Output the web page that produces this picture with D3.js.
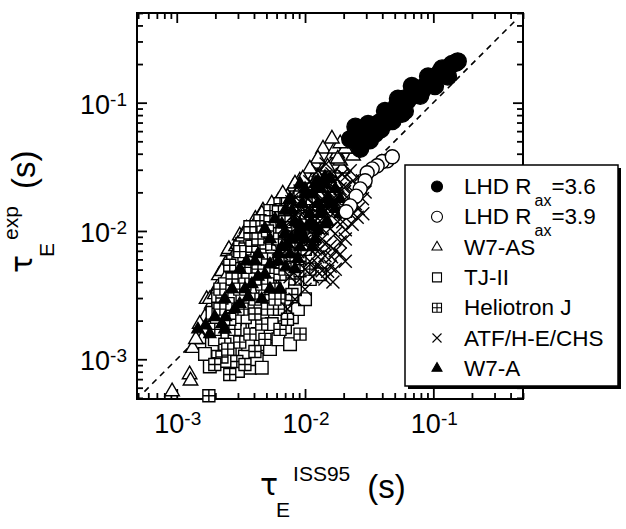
<!DOCTYPE html>
<html>
<head>
<meta charset="utf-8">
<script src="https://cdn.jsdelivr.net/npm/d3@7"></script>
<style>
  body { margin: 0; background: #fff; }
  text { font-family: "Liberation Sans", Arial, sans-serif; fill: #000; }
</style>
</head>
<body>
<div id="chart"></div>
<script>
// tau_E^exp vs tau_E^ISS95 (s)
const lhd36 = [[0.0225,0.052],[0.025,0.050],[0.027,0.056],[0.029,0.054],[0.031,0.060],[0.033,0.058],
  [0.034,0.066],[0.036,0.064],[0.038,0.070],[0.041,0.068],[0.043,0.078],[0.046,0.075],[0.048,0.085],
  [0.050,0.082],[0.052,0.095],[0.055,0.090],[0.058,0.100],[0.060,0.108],[0.063,0.104],[0.066,0.112],
  [0.070,0.118],[0.074,0.115],[0.078,0.128],[0.082,0.125],[0.086,0.135],[0.090,0.140],[0.094,0.148],
  [0.100,0.150],[0.105,0.160],[0.112,0.172],[0.118,0.168],[0.125,0.180],[0.132,0.190],[0.14,0.20],
  [0.15,0.205],[0.155,0.21],[0.0247,0.065],[0.028,0.0523],[0.031,0.0683],[0.035,0.057],[0.042,0.0863],
  [0.048,0.072],[0.053,0.1074],[0.06,0.0863],[0.068,0.135],[0.079,0.113],[0.091,0.16],[0.103,0.135],
  [0.117,0.185],[0.13,0.16],[0.0269,0.0437],[0.057,0.082],[0.039,0.062],[0.032,0.051]];

const lhd39 = [[0.0437,0.0352],[0.040,0.0348],[0.0365,0.0322],[0.0334,0.0305],[0.0305,0.0284],
  [0.0294,0.0246],[0.0269,0.0213],[0.025,0.0187],[0.0225,0.0157],[0.0209,0.0141],[0.0479,0.0379]];

const w7as = [[9.2e-4,5.6e-4],[1.26e-3,7.6e-4],[1.28e-3,6.8e-4],[1.33e-3,1.22e-3],[1.51e-3,1.57e-3],
  [1.74e-3,1.88e-3],[1.88e-3,2.7e-3],[2.0e-3,2.94e-3],[2.1e-3,3.7e-3],[2.13e-3,4.5e-3],[2.5e-3,6.9e-3],
  [2.55e-3,7.2e-3],[3.1e-3,9.2e-3],[3.5e-3,0.0104],[4.1e-3,0.0124],[4.7e-3,0.0144],[6.2e-3,0.0171],
  [6.6e-3,0.0178],[8.1e-3,0.0221],[9.1e-3,0.0246],[0.0104,0.0268],[0.0120,0.0333],[0.0138,0.0437],
  [0.0157,0.0365],[0.0178,0.040],[0.0195,0.0305],[0.0237,0.0385],[0.026,0.0523],[0.0294,0.0654],
  [0.0233,0.059],[0.0217,0.0437],[0.0172,0.0437],[3.1e-3,6.04e-3],[3.72e-3,7.23e-3],[4.45e-3,8.66e-3],
  [5.33e-3,0.0104],[6.38e-3,0.0124],[7.64e-3,0.0149],[9.14e-3,0.0178],[0.0109,0.0195],[0.0131,0.0233],
  [0.0157,0.0279],[3.4e-3,4.22e-3],[4.07e-3,5.04e-3],[4.87e-3,6.6e-3],[5.83e-3,7.9e-3],[6.98e-3,9.5e-3],
  [8.35e-3,0.0113],[0.01,0.0136],[0.012,0.0163],[0.0143,0.0195],[0.0172,0.0233],[2.59e-3,3.52e-3],
  [2.84e-3,2.94e-3],[2.37e-3,2.46e-3],[2.17e-3,2.05e-3],[1.98e-3,1.57e-3],[3.72e-3,2.94e-3],
  [4.45e-3,3.52e-3],[5.33e-3,4.22e-3],[2.4e-3,5.5e-3],[2.84e-3,5.2e-3],[3.4e-3,6.6e-3],[4.07e-3,9.5e-3],
  [5.1e-3,0.0113],[5.83e-3,0.0141],[7.3e-3,0.0184],[9.14e-3,0.0213],[0.0114,0.0246],[0.0136,0.0295],
  [0.0188,0.0352],[3.4e-3,7.9e-3],[2.9e-3,7.6e-3],[2.3e-3,3.8e-3],[1.71e-3,2.94e-3],[1.57e-3,1.43e-3],
  [1.66e-3,2.13e-3],[1.81e-3,2.94e-3],[2.25e-3,4.85e-3],[2.7e-3,5.8e-3],[3.0e-3,7.9e-3],[3.72e-3,9.5e-3],
  [4.3e-3,0.0108],[5.1e-3,0.0128],[6.98e-3,0.0163],[8.8e-3,0.0195],[0.0106,0.0221],[0.0126,0.0264],
  [0.015,0.0316],[0.018,0.0365],[0.0206,0.0437],[0.0269,0.057],[0.0247,0.048],[0.0188,0.048],
  [0.0162,0.0523],[0.0126,0.0365],[0.0109,0.0305],[9.6e-3,0.0255],[8.35e-3,0.0233],[6.7e-3,0.0195],
  [5.5e-3,0.0163],[4.6e-3,0.0136],[4.07e-3,0.0113],[3.4e-3,9.5e-3],[2.84e-3,6.6e-3],[2.37e-3,4.22e-3],
  [1.98e-3,3.2e-3],[1.51e-3,1.88e-3],[1.41e-3,1.43e-3],[3.72e-3,5.04e-3],[4.6e-3,5.8e-3],[6.38e-3,8.9e-3],
  [7.9e-3,0.0108],[0.01,0.0163],[0.0131,0.0184],[0.0157,0.0233]];

const tj2 = [[1.81e-3,8.8e-4],[2.1e-3,1.15e-3],[2.59e-3,1.2e-3],[3.4e-3,1.05e-3],[3.72e-3,8.6e-4],
  [4.2e-3,1.0e-3],[2.7e-3,1.49e-3],[3.1e-3,1.71e-3],[2.25e-3,1.43e-3],[1.88e-3,1.31e-3],[4.45e-3,1.31e-3],
  [5.1e-3,1.57e-3],[4.07e-3,1.88e-3],[3.4e-3,2.13e-3],[2.84e-3,2.05e-3],[4.87e-3,2.25e-3],[5.83e-3,2.05e-3],
  [6.38e-3,2.94e-3],[5.33e-3,2.94e-3],[4.3e-3,2.7e-3],[3.72e-3,3.52e-3],[3.1e-3,3.2e-3],[2.59e-3,2.94e-3],
  [6.98e-3,3.85e-3],[7.64e-3,5.04e-3],[5.83e-3,4.6e-3],[4.6e-3,4.6e-3],[3.85e-3,5.5e-3],[3.2e-3,5.04e-3],
  [6.7e-3,6.04e-3],[8.35e-3,6.6e-3],[0.01,7.23e-3],[0.0106,7.9e-3],[9.14e-3,8.66e-3],[5.33e-3,6.6e-3],
  [4.45e-3,6.04e-3],[7.64e-3,8.66e-3],[6.38e-3,7.9e-3],[4.87e-3,8.66e-3],[4.07e-3,7.5e-3],[9.14e-3,0.0113],
  [7.64e-3,0.0113],[0.0109,0.0124],[6.98e-3,0.0136],[5.83e-3,0.0104],[0.0131,0.0149],[0.0109,0.0163],
  [8.35e-3,0.0163],[2.37e-3,1.88e-3],[2.05e-3,2.13e-3],[2.5e-3,2.7e-3],
  [1.66e-3,1.1e-3],[2.37e-3,9.7e-4],[3.0e-3,8.1e-4],[4.6e-3,8.6e-4],[5.33e-3,1.2e-3],[6.2e-3,1.43e-3],
  [6.98e-3,1.78e-3],[7.9e-3,2.13e-3],[8.8e-3,2.46e-3],[0.01,2.94e-3],[7.64e-3,1.31e-3],[5.5e-3,1.88e-3],
  [4.3e-3,1.57e-3],[3.6e-3,1.31e-3],[1.98e-3,1.43e-3],[1.9e-3,2.3e-3],[2.1e-3,2.94e-3],[2.37e-3,3.85e-3],
  [2.84e-3,4.22e-3],[3.6e-3,4.6e-3],[5.1e-3,3.85e-3],[6.38e-3,2.46e-3],[8.35e-3,3.52e-3],[0.0109,4.22e-3],
  [0.0131,4.6e-3],[2.75e-3,5.8e-3],[3.25e-3,7.9e-3],[4.6e-3,7.9e-3],[6.2e-3,0.01]];

const hj = [[1.78e-3,5.2e-4],[2.59e-3,7.6e-4],[9.14e-3,1.57e-3],[2.25e-3,1.04e-3],[2.94e-3,9.6e-4],
  [1.98e-3,1.71e-3],[2.37e-3,1.31e-3],[3.1e-3,1.36e-3],[3.72e-3,1.57e-3],[2.84e-3,1.71e-3],[4.6e-3,1.88e-3],
  [3.6e-3,2.46e-3],[3.0e-3,2.46e-3],[4.07e-3,2.94e-3],[4.87e-3,3.2e-3],[5.83e-3,3.52e-3],[4.6e-3,3.85e-3],
  [3.4e-3,3.85e-3],[2.7e-3,4.22e-3],[2.25e-3,3.0e-3],[5.33e-3,5.2e-3],[4.3e-3,5.04e-3],[3.6e-3,6.3e-3],
  [3.0e-3,6.3e-3],[6.38e-3,4.6e-3],[7.64e-3,5.8e-3],[9.14e-3,5.8e-3],[8.35e-3,4.22e-3],[6.98e-3,2.94e-3],
  [6.2e-3,2.46e-3],[7.9e-3,3.2e-3],[5.1e-3,2.46e-3],[2.59e-3,5.4e-3],[4.45e-3,7.23e-3],[5.5e-3,7.9e-3],
  [6.98e-3,7.23e-3],[3.1e-3,7.5e-3],[3.72e-3,8.66e-3],[4.6e-3,0.01],[5.5e-3,0.0124],[6.6e-3,9.5e-3],
  [8.5e-3,7.9e-3],[0.01,0.01],[7.9e-3,0.01],[6.38e-3,0.0163],[5.33e-3,0.0144],[4.45e-3,0.012],
  [3.72e-3,0.0108],[0.012,0.0104],[0.0114,8.66e-3],[3.4e-3,7.23e-3],[3.85e-3,7.6e-3],[8.8e-3,0.0144],
  [0.0102,0.0178],[9.14e-3,0.0184],[4.7e-3,9.8e-3],[5.33e-3,0.0118],[7.3e-3,0.0163],[6.2e-3,0.0141],
  [2.17e-3,3.52e-3],[2.1e-3,2.5e-3],
  [1.98e-3,9.1e-4],[3.4e-3,9.1e-4],[2.5e-3,1.2e-3],[4.07e-3,1.15e-3],[4.87e-3,1.43e-3],[6.38e-3,1.71e-3],
  [7.3e-3,2.05e-3],[5.83e-3,2.94e-3],[4.07e-3,2.25e-3],[2.59e-3,2.05e-3],[2.17e-3,2.46e-3],[3.1e-3,3.52e-3],
  [4.07e-3,4.22e-3],[5.1e-3,6.04e-3],[6.98e-3,5.04e-3],[9.14e-3,4.9e-3],[0.0109,5.04e-3],[3.4e-3,5.2e-3],
  [3.1e-3,6.9e-3],[4.3e-3,8.66e-3],[6.2e-3,8.66e-3],[8.35e-3,7.23e-3],[5.1e-3,0.01],[6.98e-3,0.0118],
  [9.14e-3,0.0124],[0.0114,0.0144]];

const atf = [[0.0282,0.0136],[0.0255,0.0128],[0.0233,0.0113],[0.0206,0.0102],[0.0188,8.2e-3],
  [0.0172,7.0e-3],[0.0157,5.3e-3],[0.0165,4.0e-3],[0.0143,4.22e-3],[0.0136,4.9e-3],[0.0161,6.3e-3],
  [0.0225,0.0295],[0.0237,0.0246],[0.026,0.0221],[0.028,0.0178],[0.0294,0.0201],[0.0206,8.66e-3],
  [0.0143,6.4e-3],[0.0157,7.6e-3],[0.0217,0.0178],[0.0195,0.0149],[0.018,0.0118],[0.0157,0.0104],
  [0.0136,8.66e-3],[0.012,7.23e-3],[0.0109,5.8e-3],[0.0126,5.5e-3],[0.01,5.04e-3],[0.0114,4.4e-3],
  [9.14e-3,4.22e-3],[0.0188,0.0213],[0.0172,0.0178],[0.015,0.0149],[0.0131,0.012],[0.0115,0.0102],
  [0.01,8.3e-3],[8.8e-3,6.9e-3],[0.0206,0.0221],[0.0247,0.0163],[0.0225,0.0136],[0.0176,0.0255],
  [0.0157,0.0213],[0.0136,0.0178],[0.012,0.0144],[0.0104,0.012],[8.8e-3,0.01],[7.64e-3,7.9e-3],
  [6.6e-3,6.6e-3],[0.0148,0.0246],[0.0126,0.0213],[0.0106,0.0178],[9.14e-3,0.0144],[7.9e-3,0.013],
  [6.98e-3,0.0108],[0.0109,0.0242],[9.14e-3,0.0205],[7.9e-3,0.0169],[0.0126,0.0295],[0.0146,0.0333],
  [0.0195,0.0275],[0.01,3.52e-3],[8.35e-3,2.94e-3],[7.3e-3,2.46e-3],[0.0143,0.0163],[0.0165,0.0136],
  [0.0126,0.0136],[0.01,0.0108],[0.0114,0.0163],[0.018,0.0184],[0.0206,0.0163],[0.0136,0.0104],
  [9.14e-3,7.9e-3],[7.64e-3,9.5e-3],[8.35e-3,0.0136],[6.98e-3,8.3e-3],[6.2e-3,7.23e-3],[0.0109,7.23e-3],
  [0.0131,7.23e-3],[9.14e-3,6.04e-3],[7.64e-3,4.4e-3],[0.012,5.04e-3],
  [0.0225,0.0195],[0.026,0.0149],[0.0197,0.0118],[0.0172,9.5e-3],[0.0143,7.9e-3],[0.0126,6.3e-3],
  [0.0188,6.6e-3],[0.0206,5.8e-3],[0.015,4.85e-3],[0.0172,5.04e-3],[0.0247,0.0195],[0.028,0.0246],
  [0.0206,0.0264],[0.0162,0.0279],[0.0136,0.0221],[0.0109,0.0195],[9.14e-3,0.0169],[7.64e-3,0.0149],
  [0.01,0.0144],[0.012,0.012],[0.0143,0.0144],[0.0165,0.0178]];

const w7a = [[1.46e-3,1.71e-3],[1.68e-3,1.84e-3],[2.4e-3,2.13e-3],[3.1e-3,2.7e-3],[3.85e-3,3.85e-3],
  [4.87e-3,4.6e-3],[6.2e-3,5.8e-3],[7.1e-3,5.2e-3],[5.33e-3,8.66e-3],[6.6e-3,0.0113],[7.9e-3,0.0144],
  [9.5e-3,0.0163],[0.0114,0.0195],[0.0126,0.0163],[0.0106,0.0108],[8.5e-3,9.0e-3],[7.64e-3,6.6e-3],
  [9.14e-3,7.5e-3],[0.0131,0.0213],[0.015,0.0178],[0.0172,0.0149],[0.0143,0.0113],[0.012,8.66e-3],
  [3.1e-3,5.04e-3],[2.7e-3,3.52e-3],[4.3e-3,6.6e-3],[3.5e-3,5.8e-3],[9.14e-3,0.0113],[0.0109,0.0136],
  [6.38e-3,3.52e-3],[4.6e-3,2.94e-3],[8.35e-3,5.04e-3],[0.0143,0.0233],[0.01,0.0213],[7.64e-3,0.0178],
  [6.98e-3,0.0144],[5.83e-3,0.0124],[4.87e-3,0.0104],[4.07e-3,5.8e-3],[5.33e-3,3.52e-3],[3.6e-3,3.05e-3],
  [2.37e-3,2.94e-3],[1.98e-3,2.13e-3],
  [0.0157,0.0255],[0.0126,0.0246],[0.0136,0.0144],[0.0114,0.0113],[9.14e-3,9.5e-3],[7.3e-3,7.9e-3],
  [6.2e-3,6.6e-3],[5.33e-3,5.5e-3],[4.3e-3,4.4e-3],[3.4e-3,3.52e-3],[2.84e-3,2.46e-3],[2.37e-3,1.71e-3],
  [1.81e-3,1.57e-3],[2.25e-3,1.88e-3],[0.0188,0.0178],[0.0206,0.0136],
  [0.01,0.0195],[0.012,0.0233],[0.0143,0.0264],[0.0172,0.0213],[0.0157,0.0163],[0.0131,0.0136],
  [0.0109,0.0113],[9.14e-3,0.0104],[7.9e-3,8.66e-3],[6.98e-3,9.5e-3],[8.35e-3,0.0118],[0.01,8.66e-3],
  [0.0126,0.0102],[0.015,0.0118],[0.0188,0.0136],[0.0114,7.5e-3],[8.8e-3,6.04e-3],[6.6e-3,7.5e-3],
  [7.64e-3,0.0178],[9.14e-3,0.0233]];

const diagonal = [5.6e-4, 0.43];
const majorTicks = [1e-3, 1e-2, 1e-1];
const tickExp = ["-3", "-2", "-1"];
const legendNames = ["LHD R", "LHD R", "W7-AS", "TJ-II", "Heliotron J", "ATF/H-E/CHS", "W7-A"];
const legendSub = ["ax", "ax", "", "", "", "", ""];
const legendTail = ["=3.6", "=3.9", "", "", "", "", ""];

const W = 626, H = 529;
const svg = d3.select("#chart").append("svg").attr("width", W).attr("height", H);

const x = d3.scaleLog().domain([4.9e-4, 0.5]).range([137, 523]);
const y = d3.scaleLog().domain([4.9e-4, 0.5]).range([399, 13]);

const minorTicks = x.ticks().filter(v => Math.abs(Math.log10(v) - Math.round(Math.log10(v))) > 1e-6);

// inward ticks on four sides
function tickAxis(axisFn, scale, vals, len, tr) {
  const g = svg.append("g").attr("transform", tr)
    .call(axisFn(scale).tickValues(vals).tickSizeInner(-len).tickSizeOuter(0).tickFormat(""));
  g.select(".domain").remove();
  g.selectAll("line").attr("stroke", "#000").attr("stroke-width", 1.8);
}
[[majorTicks, 10], [minorTicks, 6]].forEach(([vals, len]) => {
  tickAxis(d3.axisBottom, x, vals, len, "translate(0,399)");
  tickAxis(d3.axisTop, x, vals, len, "translate(0,13)");
  tickAxis(d3.axisLeft, y, vals, len, "translate(137,0)");
  tickAxis(d3.axisRight, y, vals, len, "translate(523,0)");
});

svg.append("rect").attr("x", 137).attr("y", 13).attr("width", 386).attr("height", 386)
  .attr("fill", "none").attr("stroke", "#000").attr("stroke-width", 2);

// tick labels
majorTicks.forEach((v, i) => {
  const tx = svg.append("text").attr("x", x(v) + 1).attr("y", 433).attr("text-anchor", "middle")
    .style("font-size", "27px");
  tx.append("tspan").text("10");
  tx.append("tspan").attr("dy", -8).style("font-size", "19px").text(tickExp[i]);
  const ty = svg.append("text").attr("x", 127).attr("y", y(v) + 11).attr("text-anchor", "end")
    .style("font-size", "27px");
  ty.append("tspan").text("10");
  ty.append("tspan").attr("dy", -8).style("font-size", "19px").text(tickExp[i]);
});

// y = x line
svg.append("path")
  .attr("d", d3.line().x(d => x(d)).y(d => y(d))(diagonal))
  .attr("fill", "none").attr("stroke", "#000").attr("stroke-width", 1.6).attr("stroke-dasharray", "6,5");

// symbols
const tri = s => { const h = s * Math.sqrt(3) / 2; return `M0,${-h * 2 / 3}L${s / 2},${h / 3}L${-s / 2},${h / 3}Z`; };
const sq = a => `M${-a},${-a}h${2 * a}v${2 * a}h${-2 * a}Z`;
const hjPath = a => sq(a) + `M0,${-a}V${a}M${-a},0H${a}`;
const xPath = a => `M${-a},${-a}L${a},${a}M${-a},${a}L${a},${-a}`;
const circ = r => `M${r},0A${r},${r} 0 1,1 ${-r},0A${r},${r} 0 1,1 ${r},0Z`;

const series = [
  { data: w7as, d: tri(14.5), fill: "#fff" },
  { data: tj2, d: sq(6.3), fill: "#fff" },
  { data: hj, d: hjPath(6), fill: "#fff" },
  { data: atf, d: xPath(6.5), fill: "none" },
  { data: w7a, d: tri(12), fill: "#000" },
  { data: lhd39, d: circ(7), fill: "#fff" },
  { data: lhd36, d: circ(8.5), fill: "#000" }
];
const pts = svg.append("g");
series.forEach(s => {
  pts.append("g").selectAll("path").data(s.data).join("path")
    .attr("transform", d => `translate(${x(d[0])},${y(d[1])})`)
    .attr("d", s.d).attr("fill", s.fill).attr("stroke", "#000").attr("stroke-width", 1.4);
});

// legend
const leg = svg.append("g");
leg.append("rect").attr("x", 408).attr("y", 168).attr("width", 213).attr("height", 221).attr("fill", "#000");
leg.append("rect").attr("x", 405).attr("y", 165).attr("width", 213).attr("height", 221)
  .attr("fill", "#fff").attr("stroke", "#000").attr("stroke-width", 1.5);
const legSym = [
  { d: circ(5.5), fill: "#000" }, { d: circ(5.5), fill: "#fff" }, { d: tri(10), fill: "#fff" },
  { d: sq(4.5), fill: "#fff" }, { d: hjPath(4.5), fill: "#fff" }, { d: xPath(4.5), fill: "none" },
  { d: tri(10), fill: "#000" }
];
legendNames.forEach((name, i) => {
  const by = 194 + i * 30.3;
  leg.append("path").attr("transform", `translate(437,${by - 7.5})`)
    .attr("d", legSym[i].d).attr("fill", legSym[i].fill).attr("stroke", "#000").attr("stroke-width", 1.1);
  const t = leg.append("text").attr("x", 464).attr("y", by).style("font-size", "22.5px");
  t.append("tspan").text(name);
  if (legendSub[i]) {
    t.append("tspan").attr("dx", 3).attr("dy", 12).style("font-size", "16px").text(legendSub[i]);
    t.append("tspan").attr("dy", -12).text(legendTail[i]);
  }
});

// axis titles
function axisTitle(g, sup) {
  const t = g.append("text").attr("x", 0).attr("y", 0);
  t.append("tspan").style("font-family", "DejaVu Sans").style("font-size", "30px").text("τ");
  t.append("tspan").attr("dx", -2).attr("dy", 22).style("font-size", "21px").text("E");
  t.append("tspan").attr("dx", 3).attr("dy", -36).style("font-size", "21px").text(sup);
  t.append("tspan").attr("dx", 17).attr("dy", 17).style("font-size", "33px").text("(s)");
}
axisTitle(svg.append("g").attr("transform", "translate(260,495)"), "ISS95");
axisTitle(svg.append("g").attr("transform", "translate(32,273) rotate(-90)"), "exp");
</script>
</body>
</html>
